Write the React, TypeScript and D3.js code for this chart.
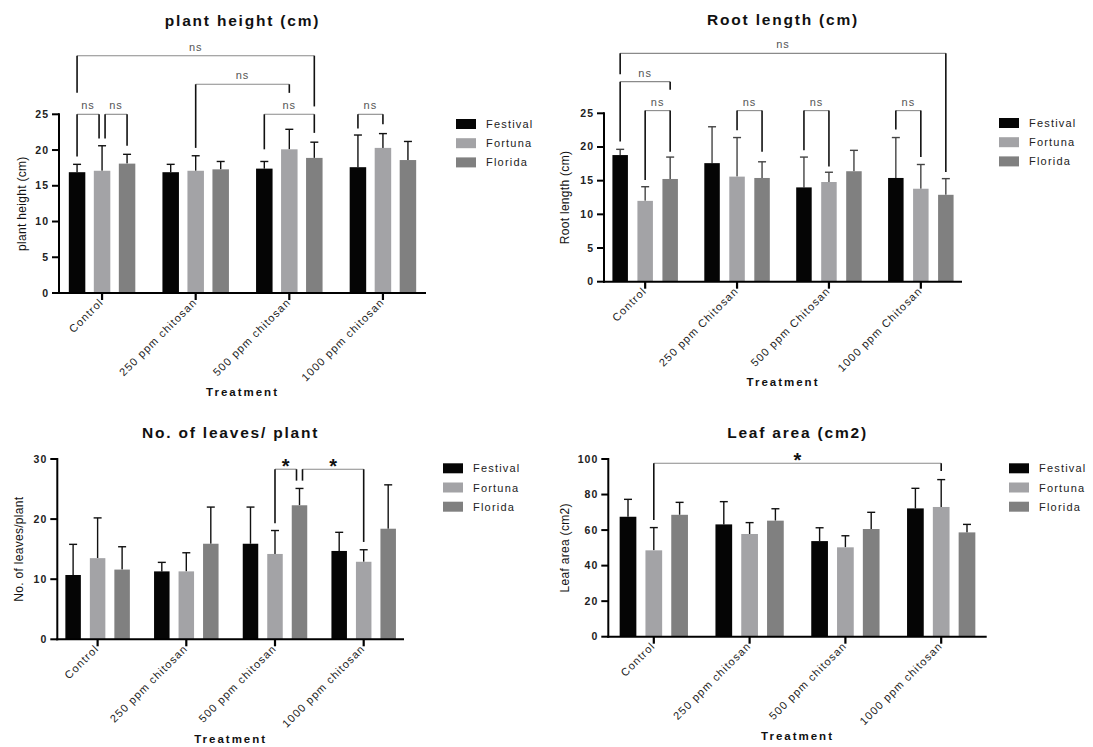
import React from "react";
import * as d3 from "d3";

const varieties = ["Festival", "Fortuna", "Florida"];
const barColors = ["#050505", "#a3a3a6", "#808080"];

const treatments = ["Control", "250 ppm chitosan", "500 ppm chitosan", "1000 ppm chitosan"];
const treatmentsRoot = ["Control", "250 ppm Chitosan", "500 ppm Chitosan", "1000 ppm Chitosan"];

// rows = variety (Festival, Fortuna, Florida), columns = treatment
const heightMean = [
  [16.9, 16.9, 17.4, 17.6],
  [17.1, 17.1, 20.1, 20.3],
  [18.1, 17.3, 18.9, 18.6],
];
const heightSd = [
  [1.1, 1.1, 1.0, 4.5],
  [3.5, 2.1, 2.8, 2.0],
  [1.3, 1.1, 2.2, 2.6],
];
const heightTicks = [0, 5, 10, 15, 20, 25];

const rootMean = [
  [18.8, 17.6, 14.0, 15.4],
  [12.0, 15.6, 14.8, 13.8],
  [15.25, 15.4, 16.4, 12.9],
];
const rootSd = [
  [0.85, 5.4, 4.5, 6.0],
  [2.1, 5.8, 1.45, 3.6],
  [3.25, 2.4, 3.1, 2.4],
];
const rootTicks = [0, 5, 10, 15, 20, 25];

const leavesMean = [
  [10.7, 11.3, 15.9, 14.7],
  [13.5, 11.3, 14.2, 12.9],
  [11.6, 15.9, 22.3, 18.4],
];
const leavesSd = [
  [5.1, 1.5, 6.1, 3.1],
  [6.7, 3.1, 3.9, 2.0],
  [3.8, 6.1, 2.8, 7.3],
];
const leavesTicks = [0, 10, 20, 30];

const areaMean = [
  [67.5, 63.2, 53.8, 72.2],
  [48.6, 57.8, 50.3, 73.0],
  [68.6, 65.3, 60.6, 58.7],
];
const areaSd = [
  [9.8, 12.8, 7.5, 11.3],
  [12.8, 6.4, 6.5, 15.4],
  [7.0, 6.7, 9.4, 4.5],
];
const areaTicks = [0, 20, 40, 60, 80, 100];

// significance brackets: [treatment, variety, nudge] ends, heights in data units
const heightBrackets = [
  { a: [0, 0, 0], b: [2, 2, 0], level: 33.2, endA: 28.0, endB: 26.1, label: "ns" },
  { a: [1, 1, 0], b: [2, 1, 0], level: 29.2, endA: 20.3, endB: 28.0, label: "ns" },
  { a: [0, 0, 0], b: [0, 1, -3], level: 25, endA: 19.1, endB: 21.6, label: "ns" },
  { a: [0, 1, 3], b: [0, 2, 0], level: 25, endA: 21.6, endB: 20.6, label: "ns" },
  { a: [2, 0, 0], b: [2, 2, 0], level: 25, endA: 20.1, endB: 22.4, label: "ns" },
  { a: [3, 0, 0], b: [3, 1, 0], level: 25, endA: 23.0, endB: 23.6, label: "ns" },
];
const rootBrackets = [
  { a: [0, 0, 0], b: [3, 2, 0], level: 33.9, endA: 30.8, endB: 16.3, label: "ns" },
  { a: [0, 0, 0], b: [0, 2, 0], level: 29.7, endA: 20.8, endB: 28.5, label: "ns" },
  { a: [0, 1, 0], b: [0, 2, 0], level: 25.4, endA: 15.1, endB: 19.3, label: "ns" },
  { a: [1, 1, 0], b: [1, 2, 0], level: 25.4, endA: 22.5, endB: 19.3, label: "ns" },
  { a: [2, 0, 0], b: [2, 1, 0], level: 25.4, endA: 19.5, endB: 17.1, label: "ns" },
  { a: [3, 0, 0], b: [3, 1, 0], level: 25.4, endA: 22.6, endB: 18.5, label: "ns" },
];
const leavesBrackets = [
  { a: [2, 1, 0], b: [2, 2, -3], level: 28.3, endA: 19.3, endB: 26.4, label: "*" },
  { a: [2, 2, 3], b: [3, 1, 0], level: 28.3, endA: 26.4, endB: 16.2, label: "*" },
];
const areaBrackets = [
  { a: [0, 1, 0], b: [3, 1, 0], level: 97.6, endA: 65.7, endB: 93.2, label: "*" },
];

const FONT = "'Liberation Sans', Arial, Helvetica, sans-serif";

const panels = [
  {
    title: "plant height (cm)", yLabel: "plant height (cm)", cats: treatments,
    mean: heightMean, sd: heightSd, ticks: heightTicks, brackets: heightBrackets,
    left: 59, right: 426, zero: 293, top: 114.3, pad: 0.46, barW: 16.5, step: 25,
    titleY: 26, xTitleY: 396, yLabelX: 26, legendX: 456, legendY: 124, errColor: "#111",
  },
  {
    title: "Root length (cm)", yLabel: "Root length (cm)", cats: treatmentsRoot,
    mean: rootMean, sd: rootSd, ticks: rootTicks, brackets: rootBrackets,
    left: 604, right: 962, zero: 281.7, top: 113.3, pad: 0.448, barW: 15.5, step: 25,
    titleY: 25, xTitleY: 386, yLabelX: 569, legendX: 999, legendY: 123, errColor: "#444",
  },
  {
    title: "No. of leaves/ plant", yLabel: "No. of leaves/plant", cats: treatments,
    mean: leavesMean, sd: leavesSd, ticks: leavesTicks, brackets: leavesBrackets,
    left: 57.3, right: 404, zero: 639.3, top: 459, pad: 0.4545, barW: 15.5, step: 24.5,
    titleY: 438, xTitleY: 743, yLabelX: 22.5, legendX: 443, legendY: 468.3, errColor: "#111",
  },
  {
    title: "Leaf area (cm2)", yLabel: "Leaf area (cm2)", cats: treatments,
    mean: areaMean, sd: areaSd, ticks: areaTicks, brackets: areaBrackets,
    left: 608.3, right: 986.7, zero: 636.7, top: 459, pad: 0.475, barW: 16.7, step: 25.8,
    titleY: 438, xTitleY: 740, yLabelX: 569, legendX: 1009, legendY: 468.3, errColor: "#111",
  },
];

const Panel = ({ p }) => {
  const yMax = p.ticks[p.ticks.length - 1];
  const y = d3.scaleLinear().domain([0, yMax]).range([p.zero, p.top]);
  const x = d3.scalePoint().domain(p.cats).range([p.left, p.right]).padding(p.pad);
  const inner = d3
    .scaleBand()
    .domain(varieties)
    .range([-1.5 * p.step, 1.5 * p.step])
    .paddingInner(1 - p.barW / p.step)
    .paddingOuter((1 - p.barW / p.step) / 2);
  const cx = (g, s) => x(p.cats[g]) + inner(varieties[s]) + inner.bandwidth() / 2;
  const midX = (p.left + p.right) / 2;

  return (
    <g fontFamily={FONT}>
      <text x={midX} y={p.titleY} textAnchor="middle" fontSize={15.5} fontWeight="bold" letterSpacing={1.8} fill="#111">
        {p.title}
      </text>

      {/* bars + error bars */}
      {varieties.map((v, s) =>
        p.cats.map((c, g) => {
          const bx = x(c) + inner(v);
          const m = p.mean[s][g];
          const hi = m + p.sd[s][g];
          const xc = bx + inner.bandwidth() / 2;
          return (
            <g key={v + c}>
              <line x1={xc} x2={xc} y1={y(m)} y2={y(hi)} stroke={p.errColor} strokeWidth={1.4} />
              <line x1={xc - 4} x2={xc + 4} y1={y(hi)} y2={y(hi)} stroke={p.errColor} strokeWidth={1.4} />
              <rect x={bx} y={y(m)} width={inner.bandwidth()} height={p.zero - y(m)} fill={barColors[s]} />
            </g>
          );
        })
      )}

      {/* brackets */}
      {p.brackets.map((b, i) => {
        const xa = cx(b.a[0], b.a[1]) + b.a[2];
        const xb = cx(b.b[0], b.b[1]) + b.b[2];
        const ly = y(b.level);
        const star = b.label === "*";
        return (
          <g key={"br" + i}>
            <line x1={xa} x2={xb} y1={ly} y2={ly} stroke="#8a8a8a" strokeWidth={1.1} />
            <line x1={xa} x2={xa} y1={ly} y2={y(b.endA)} stroke="#111" strokeWidth={1.6} />
            <line x1={xb} x2={xb} y1={ly} y2={y(b.endB)} stroke="#111" strokeWidth={1.6} />
            <text
              x={(xa + xb) / 2}
              y={star ? ly + 4 : ly - 5}
              textAnchor="middle"
              fontSize={star ? 20 : 11}
              fontWeight={star ? "bold" : "normal"}
              letterSpacing={star ? 0 : 1}
              fill={star ? "#111" : "#555"}
            >
              {b.label}
            </text>
          </g>
        );
      })}

      {/* y axis */}
      <line x1={p.left} x2={p.left} y1={p.zero + 1} y2={p.top - 1} stroke="#000" strokeWidth={2} />
      {p.ticks.map((t) => (
        <g key={"yt" + t}>
          <line x1={p.left - 7} x2={p.left} y1={y(t)} y2={y(t)} stroke="#000" strokeWidth={2} />
          <text x={p.left - 10} y={y(t) + 3.5} textAnchor="end" fontSize={10.5} fontWeight="bold" letterSpacing={1} fill="#222">
            {t}
          </text>
        </g>
      ))}
      <text
        transform={`translate(${p.yLabelX},${(p.zero + p.top) / 2}) rotate(-90)`}
        textAnchor="middle"
        fontSize={12}
        letterSpacing={0.3}
        fill="#111"
      >
        {p.yLabel}
      </text>

      {/* x axis */}
      <line x1={p.left - 1} x2={p.right} y1={p.zero} y2={p.zero} stroke="#000" strokeWidth={2} />
      {p.cats.map((c) => (
        <g key={"xt" + c}>
          <line x1={x(c)} x2={x(c)} y1={p.zero} y2={p.zero + 7} stroke="#000" strokeWidth={2.2} />
          <text
            transform={`translate(${x(c) + 2},${p.zero + 10}) rotate(-45)`}
            textAnchor="end"
            fontSize={11}
            letterSpacing={1.1}
            fill="#222"
          >
            {c}
          </text>
        </g>
      ))}
      <text x={midX} y={p.xTitleY} textAnchor="middle" fontSize={11.5} fontWeight="bold" letterSpacing={2} fill="#111">
        Treatment
      </text>

      {/* legend */}
      {varieties.map((v, s) => (
        <g key={"lg" + v} transform={`translate(${p.legendX},${p.legendY + s * 19.2})`}>
          <rect x={0} y={-5} width={20} height={10} fill={barColors[s]} />
          <text x={30} y={4} fontSize={11} letterSpacing={1.2} fill="#222">
            {v}
          </text>
        </g>
      ))}
    </g>
  );
};

const App = () => {
  return (
    <svg
      width={1093}
      height={747}
      style={{ position: "absolute", left: 0, top: 0, background: "#fff" }}
    >
      <rect width={1093} height={747} fill="#fff" />
      {panels.map((p) => (
        <Panel key={p.title} p={p} />
      ))}
    </svg>
  );
};

export default App;
